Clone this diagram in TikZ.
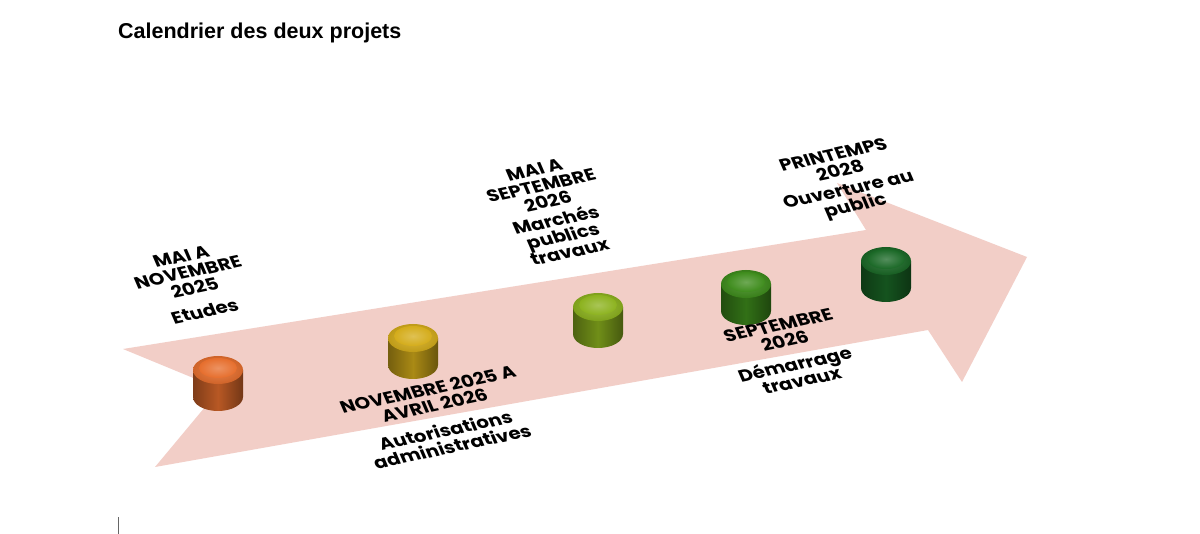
\documentclass[tikz,border=0pt]{standalone}
\usepackage{fontspec}
\setmainfont{Poppins}
\newfontfamily\lblfont{Poppins}[FakeStretch=1.14]
\newfontfamily\titlefont{Liberation Sans}
\definecolor{arrowpink}{RGB}{242,206,199}
\definecolor{pkorange}{RGB}{230,110,45}
\definecolor{pkyellow}{RGB}{212,172,26}
\definecolor{pklime}{RGB}{140,178,30}
\definecolor{pkgreen}{RGB}{62,140,28}
\definecolor{pkdark}{RGB}{26,104,38}
\newcommand\puck[3]{%
  \begin{scope}[shift={(#1,#2)}]
    \shade[left color=#3!55!black, right color=#3!50!black, middle color=#3!80!black]
      (-25,14) -- (-25,41) arc[start angle=180, end angle=0, x radius=25, y radius=14] -- (25,14) -- cycle;
    \shade[inner color=#3!85!white, outer color=#3!90!black]
      (0,14) ellipse[x radius=25, y radius=14];
    \shade[inner color=#3!75!white, outer color=#3]
      (0,12) ellipse[x radius=19, y radius=10];
  \end{scope}}
\tikzset{
  lbl/.style={font=\lblfont\bfseries\fontsize{17}{17}\selectfont, align=center, rotate=12, xslant=-0.2, inner sep=0pt},
  ttl/.style={font=\titlefont\bfseries\fontsize{21.5}{24}\selectfont, anchor=west, inner sep=0pt}
}
\begin{document}
\begin{tikzpicture}[x=1pt,y=-1pt]
\useasboundingbox (0,0) rectangle (1200,534);
\fill[white] (0,0) rectangle (1200,534);
\node[ttl] (title) at (118,33) {Calendrier des deux projets};
\fill[arrowpink] (123,349) -- (866,230) -- (837,183) -- (1027,257) -- (962,382) -- (928,330) -- (155,467) -- (220,389) -- cycle;
\puck{218}{356}{pkorange}
\puck{413}{324}{pkyellow}
\puck{598}{293}{pklime}
\puck{746}{270}{pkgreen}
\puck{886}{247}{pkdark}
\node[lbl] (l1) at (193,284) {MAI A\\NOVEMBRE\\2025\\[8pt]Etudes};
\node[lbl] (l2) at (440,418) {NOVEMBRE 2025 A\\AVRIL 2026\\[10pt]Autorisations\\administratives};
\node[lbl] (l3) at (552,211) {MAI A\\SEPTEMBRE\\2026\\[3pt]Marchés\\publics\\travaux};
\node[lbl] (l4) at (790,353) {SEPTEMBRE\\2026\\[8pt]Démarrage\\travaux};
\node[lbl] (l5) at (845,182) {PRINTEMPS\\2028\\[3pt]Ouverture au\\public};
\draw[gray!80!black, line width=0.8pt] (118,517) -- (118,534);
\end{tikzpicture}
\end{document}
